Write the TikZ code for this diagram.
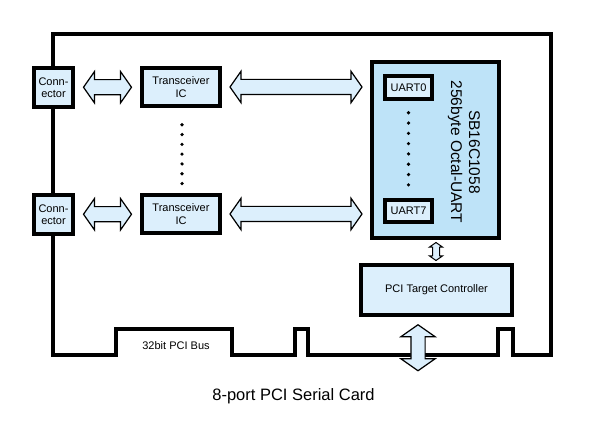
\documentclass[tikz,border=0pt]{standalone}
\usepackage{fontspec}
\setmainfont{Liberation Sans}
\usetikzlibrary{shapes.arrows, calc}

\definecolor{boxfill}{RGB}{220,239,252}
\definecolor{chipfill}{RGB}{190,227,248}

\begin{document}
\begin{tikzpicture}[x = 1pt, y = -1pt,
	block/.style = {draw, line width = 3.5pt, fill = boxfill, inner sep = 0pt, align = center, font = \fontsize{11}{12.5}\selectfont},
	fat/.style = {double arrow, draw, line width = 1.2pt, fill = boxfill, inner xsep = 0pt, inner ysep = 7pt, double arrow head extend = 8pt, double arrow tip angle = 110, minimum width = 30pt}]

	\useasboundingbox (0, 0) rectangle (591, 427);

	% Card outline with the edge connector
	
	\draw [line width = 3.5pt] (53, 34) -- (551, 34) -- (551, 355) -- (513, 355) -- (513, 329) -- (498, 329) -- (498, 355) -- (308, 355) -- (308, 329) -- (295, 329) -- (295, 355) -- (232, 355) -- (232, 329) -- (116, 329) -- (116, 355) -- (53, 355) -- cycle;
	
	\node [font = \fontsize{11}{12.5}\selectfont] (bus) at (176, 346) {32bit PCI Bus};
	
	% Ports
	
	\node [block, minimum width = 39pt, minimum height = 39pt] (con1) at (53.5, 87.5) {Conn-\\ector};
	\node [block, minimum width = 39pt, minimum height = 39pt] (con2) at (53.5, 214.5) {Conn-\\ector};
	
	\node [block, minimum width = 78pt, minimum height = 38pt] (tr1) at (181, 87) {Transceiver\\IC};
	\node [block, minimum width = 78pt, minimum height = 38pt] (tr2) at (181, 214) {Transceiver\\IC};
	
	% UART chip
	
	\node [block, fill = chipfill, minimum width = 127pt, minimum height = 176pt] (chip) at (435.5, 150) {};
	\node [block, minimum width = 47pt, minimum height = 23pt] (uart0) at (408.5, 87.5) {UART0};
	\node [block, minimum width = 47pt, minimum height = 22pt] (uart7) at (408.5, 211) {UART7};
	\node [rotate = -90, align = center, font = \fontsize{15.5}{18}\selectfont] (chipname) at (464, 152) {SB16C1058\\256byte Octal-UART};
	
	\node [block, minimum width = 151pt, minimum height = 50pt] (pci) at (436.5, 290) {PCI Target Controller};
	
	% Dots
	
	\foreach \n in {0, ..., 6}
		\fill ($(tr1.south) + (1, 17 + 9.8 * \n)$) circle (1.8pt);
	
	\foreach \n in {0, ..., 7}
		\fill ($(uart0.south) + (0, 12 + 10.3 * \n)$) circle (1.8pt);
	
	% Buses
	
	\node [fat, minimum height = 48pt] (link1) at ($(con1.east)!0.5!(tr1.west)$) {};
	\node [fat, minimum height = 48pt] (link2) at ($(con2.east)!0.5!(tr2.west)$) {};
	
	\node [fat, minimum height = 132pt] (lane1) at ($(tr1.east)!0.5!(chip.west |- tr1.east)$) {};
	\node [fat, minimum height = 132pt] (lane2) at ($(tr2.east)!0.5!(chip.west |- tr2.east)$) {};
	
	\node [fat, minimum height = 18pt, minimum width = 12pt, inner ysep = 3pt, double arrow head extend = 3pt, line width = 1pt, rotate = 90] (local) at ($(chip.south)!0.5!(pci.north)$) {};
	\node [fat, minimum height = 46pt, minimum width = 33pt, inner ysep = 6.5pt, double arrow head extend = 10pt, rotate = 90] (pcibus) at ($(pci.south) + (-18.5, 31)$) {};
	
	% Title
	
	\node [font = \fontsize{16.5}{20}\selectfont] (title) at (293.5, 396) {8-port PCI Serial Card};

\end{tikzpicture}
\end{document}
